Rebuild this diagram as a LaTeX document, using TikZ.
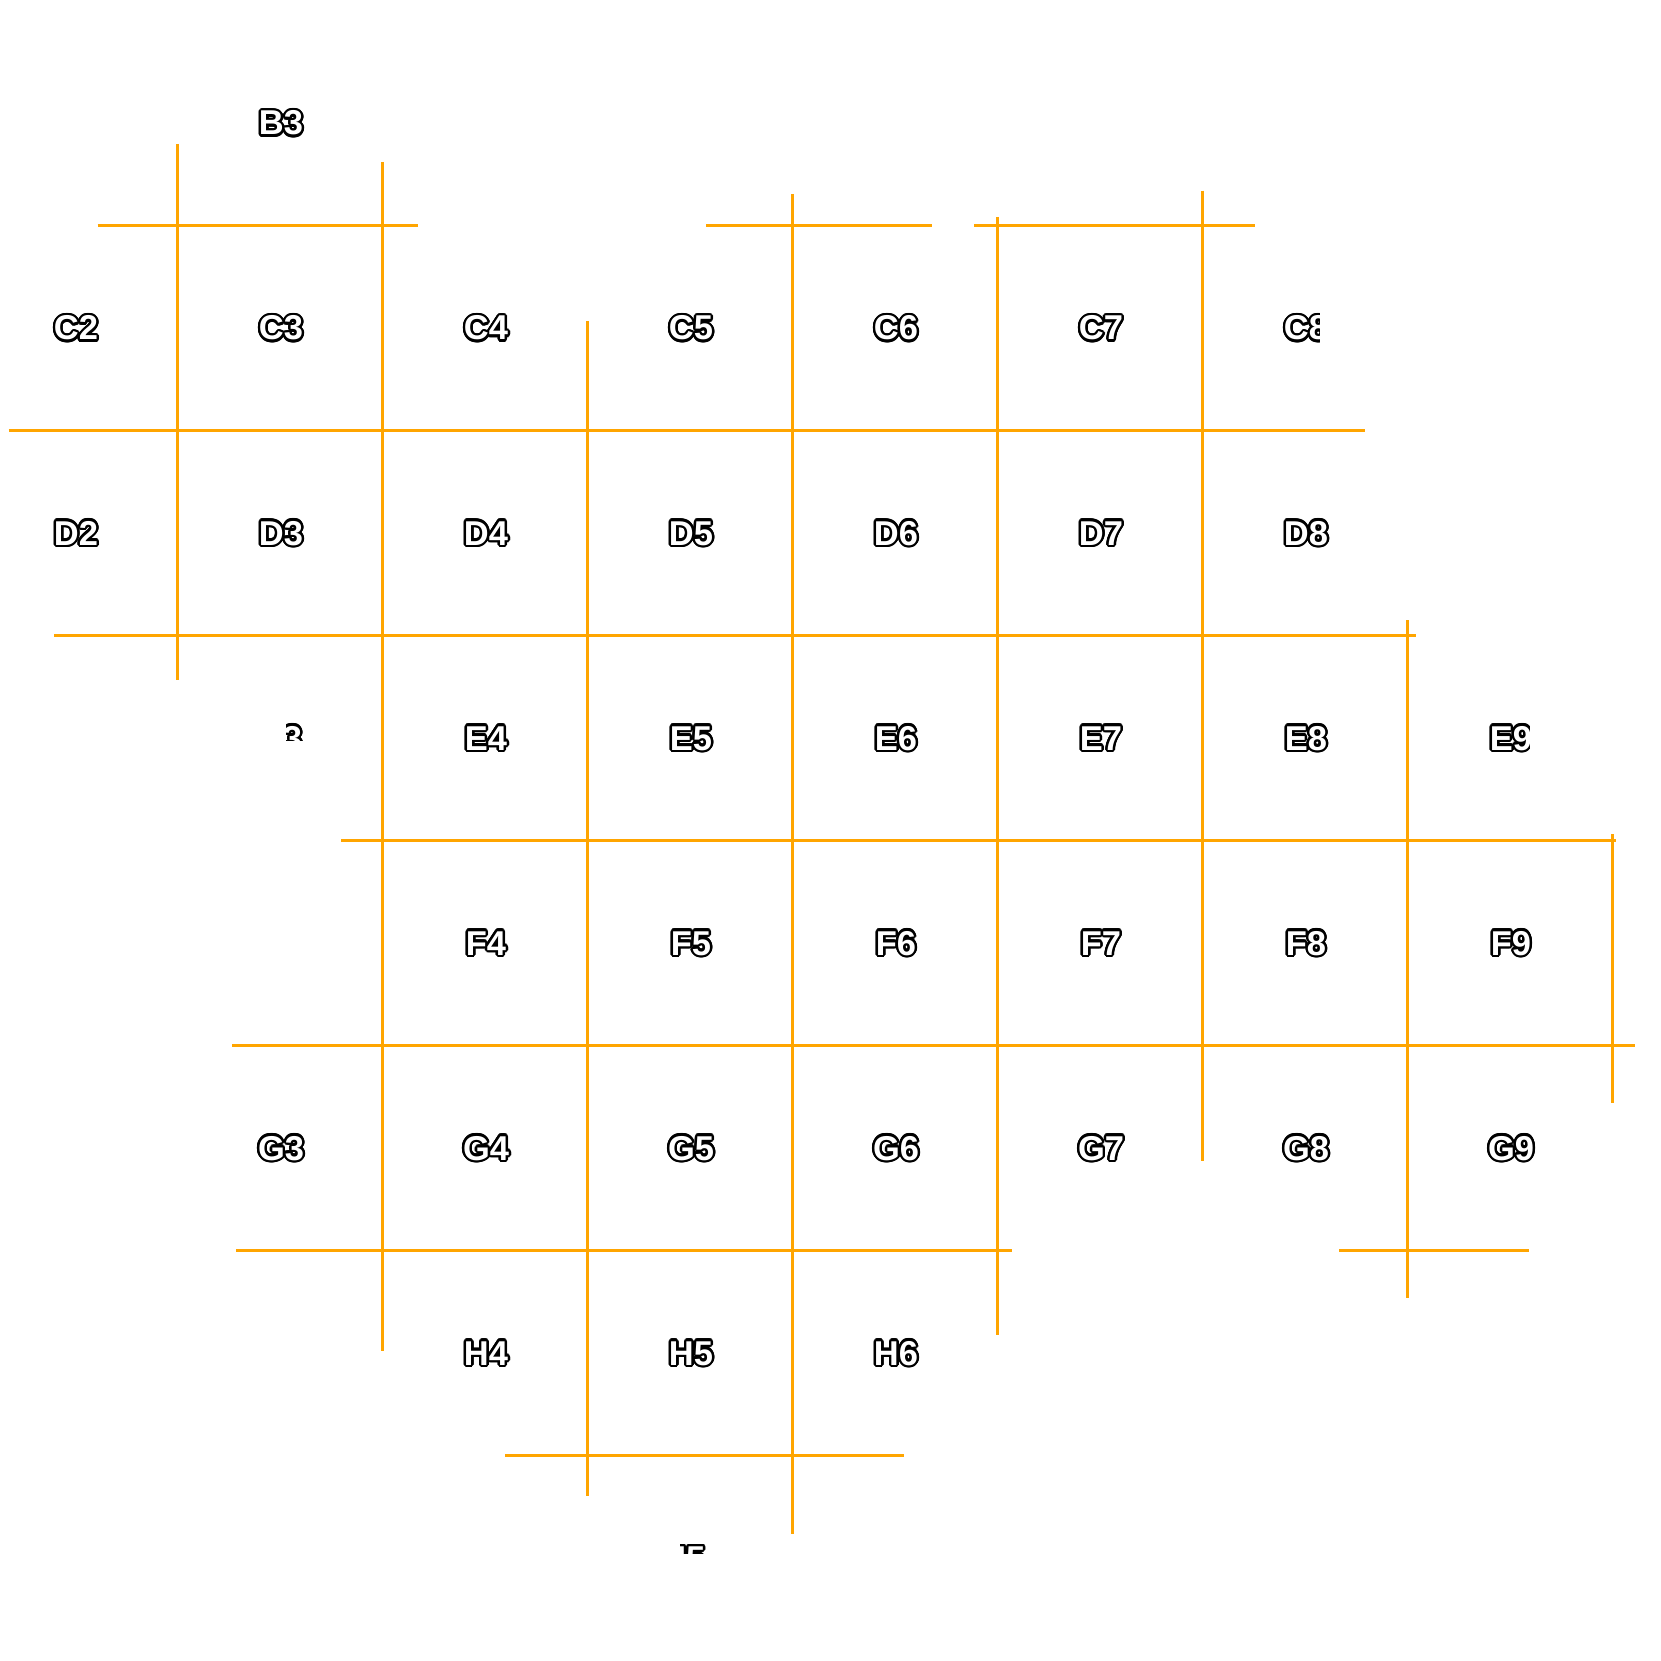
\documentclass[tikz,border=0pt]{standalone}
\usepackage{fontspec}
\setmainfont{Liberation Sans}
\usepackage{contour}
\contourlength{0.7pt}
\definecolor{gridorange}{HTML}{FFA500}
\begin{document}
\begin{tikzpicture}[x=0.01cm,y=-0.01cm,
  gridline/.style={draw=gridorange,line width=0.03cm},
  tilelabel/.style={anchor=base,inner sep=0pt,text=white,font=\fontsize{9.8pt}{9.8pt}\selectfont\bfseries}]
\useasboundingbox (0,0) rectangle (1661,1661);
% horizontal tile edges
\draw[gridline] (97.5,225.7) -- (418,225.7);
\draw[gridline] (706,225.7) -- (932,225.7);
\draw[gridline] (974,225.7) -- (1255,225.7);
\draw[gridline] (8.5,430.7) -- (1364.5,430.7);
\draw[gridline] (54,635.7) -- (1416,635.7);
\draw[gridline] (341,840.7) -- (1615.5,840.7);
\draw[gridline] (232,1045.7) -- (1635,1045.7);
\draw[gridline] (236,1250.7) -- (1011.6,1250.7);
\draw[gridline] (1339,1250.7) -- (1528.7,1250.7);
\draw[gridline] (505,1455.7) -- (903.7,1455.7);
% vertical tile edges
\draw[gridline] (177.7,144) -- (177.7,680);
\draw[gridline] (382.7,162) -- (382.7,1350.6);
\draw[gridline] (587.7,321) -- (587.7,1496);
\draw[gridline] (792.7,194) -- (792.7,1533.7);
\draw[gridline] (997.7,217) -- (997.7,1334.7);
\draw[gridline] (1202.7,190.7) -- (1202.7,1161);
\draw[gridline] (1407.7,620) -- (1407.7,1297.7);
\draw[gridline] (1612.7,834) -- (1612.7,1103);
% labels
\node[tilelabel] (lB3) at (281,135) {\contour{black}{B3}};
\foreach \c/\x in {2/76,3/281,4/486,5/691,6/896,7/1101}
  \node[tilelabel] (lC\c) at (\x,340) {\contour{black}{C\c}};
\foreach \c/\x in {2/76,3/281,4/486,5/691,6/896,7/1101,8/1306}
  \node[tilelabel] (lD\c) at (\x,545) {\contour{black}{D\c}};
\foreach \c/\x in {4/486,5/691,6/896,7/1101,8/1306}
  \node[tilelabel] (lE\c) at (\x,750) {\contour{black}{E\c}};
\foreach \c/\x in {4/486,5/691,6/896,7/1101,8/1306,9/1511}
  \node[tilelabel] (lF\c) at (\x,955) {\contour{black}{F\c}};
\foreach \c/\x in {3/281,4/486,5/691,6/896,7/1101,8/1306,9/1511}
  \node[tilelabel] (lG\c) at (\x,1160) {\contour{black}{G\c}};
\foreach \c/\x in {4/486,5/691,6/896}
  \node[tilelabel] (lH\c) at (\x,1365) {\contour{black}{H\c}};
% clipped labels
\begin{scope}
  \clip (1200,280) rectangle (1319,380);
  \node[tilelabel] (lC8) at (1306,340) {\contour{black}{C8}};
\end{scope}
\begin{scope}
  \clip (1420,690) rectangle (1529,790);
  \node[tilelabel] (lE9) at (1511,750) {\contour{black}{E9}};
\end{scope}
\begin{scope}
  \clip (286,721) rectangle (304,740);
  \node[tilelabel] (lE3) at (281,750) {\contour{black}{E3}};
\end{scope}
\begin{scope}
  \clip (680,1544) rectangle (708,1553);
  \node[tilelabel] (lI5) at (691,1570) {\contour{black}{I5}};
\end{scope}
\end{tikzpicture}
\end{document}
